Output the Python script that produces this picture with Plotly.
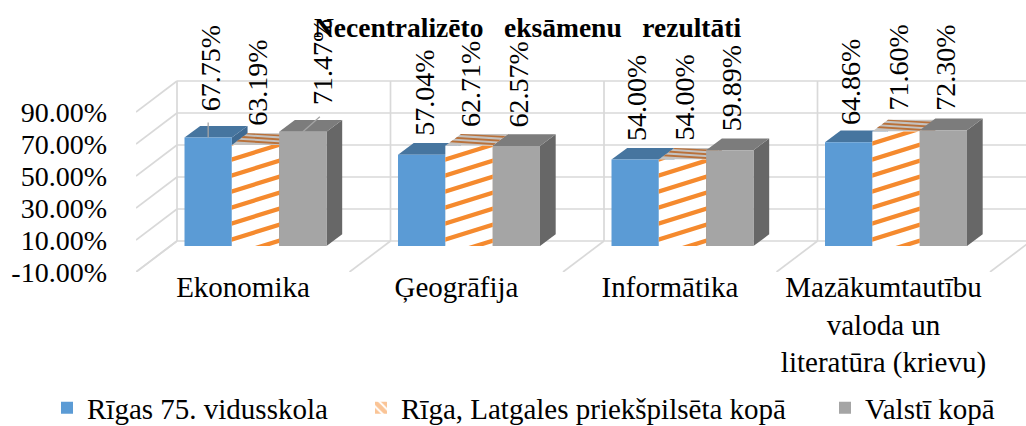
import numpy as np
import plotly.graph_objects as go

# ---------- data ----------
categories = ["Ekonomika", "Ģeogrāfija", "Informātika",
              "Mazākumtautību<br>valoda un<br>literatūra (krievu)"]
series_names = ["Rīgas 75. vidusskola", "Rīga, Latgales priekšpilsēta kopā", "Valstī kopā"]
rigas_75 = [67.75, 57.04, 54.00, 64.86]
latgales = [63.19, 62.71, 54.00, 71.60]
valsti = [71.47, 62.57, 59.89, 72.30]
y_ticks = [-10, 10, 30, 50, 70, 90]
title_text = "Necentralizēto   eksāmenu   rezultāti"

# ---------- geometry / style ----------
W, H = 1026, 426
PX_PER_CAT = 213.5
PX_PER_PCT = 1.6
ZERO_PY = 246.0
CAT0_PX = 255.5
PLOT_LEFT, PLOT_BOTTOM = 136.0, 272.0
FONT = "Liberation Serif"
GRID = "#D9D9D9"
BLUE, BLUE_TOP = "#5B9BD5", "#46759F"
ORANGE, ORANGE_TOP_BG, ORANGE_TOP_LINE = "#F58A2E", "#C4C2C0", "#B9713A"
GREY, GREY_TOP, GREY_SIDE = "#A5A5A5", "#7C7C7C", "#676767"
BLUE_SIDE = "#3F6A92"
ORANGE_SIDE = "#9A6A45"

BAR_DX, BAR_DY = 15.7, 11.7           # bar depth in px
FRONT_DX, FRONT_DY = -12.75, -10.0    # floor front edge relative to bar plane
BACK_DX, BACK_DY = 28.25, 21.0        # back wall relative to bar plane
BARGAP = 0.335
BAR_PX = PX_PER_CAT * (1 - BARGAP) / 3


def ux(px):
    return px / PX_PER_CAT


def uy(px):
    return px / PX_PER_PCT


def poly_path(pts):
    return "M" + "L".join(f"{x:.5f},{y:.5f}" for x, y in pts) + "Z"


def path_shape(pts, color, layer="below"):
    return dict(type="path", path=poly_path(pts), xref="x", yref="y", layer=layer,
                fillcolor=color, line=dict(width=0))


def line_shape(x0, y0, x1, y1):
    return dict(type="line", x0=x0, y0=y0, x1=x1, y1=y1, xref="x", yref="y", layer="below",
                line=dict(color=GRID, width=1.7))


def clip(poly, axis, limit, keep_greater):
    out = []
    for i in range(len(poly)):
        a, b = poly[i], poly[(i + 1) % len(poly)]
        ina = (a[axis] >= limit) if keep_greater else (a[axis] <= limit)
        inb = (b[axis] >= limit) if keep_greater else (b[axis] <= limit)
        if ina:
            out.append(a)
        if ina != inb:
            t = (limit - a[axis]) / (b[axis] - a[axis])
            out.append((a[0] + t * (b[0] - a[0]), a[1] + t * (b[1] - a[1])))
    return out


x_pos = np.arange(len(categories), dtype=float)
all_series = [rigas_75, latgales, valsti]
offsets = [-BAR_PX, 0.0, BAR_PX]

shapes = []
# walls and floor derived from the axis ticks
n = len(categories)
back_left = -0.5 + ux(BACK_DX)
front_left = -0.5 + ux(FRONT_DX)
x_end = (W - CAT0_PX) / PX_PER_CAT
for v in y_ticks:
    yf = v + uy(FRONT_DY)
    yb = v + uy(BACK_DY)
    shapes.append(line_shape(front_left, yf, back_left, yb))
    shapes.append(line_shape(back_left, yb, x_end + 1, yb))
for i in range(n + 1):
    xb = back_left + i
    xf = front_left + i
    shapes.append(line_shape(xf, y_ticks[0] + uy(FRONT_DY), xb, y_ticks[0] + uy(BACK_DY)))
    shapes.append(line_shape(xb, y_ticks[0] + uy(BACK_DY), xb, y_ticks[-1] + uy(BACK_DY)))

# top and side faces of the boxes, painted left to right
face_colors = [(BLUE_TOP, BLUE_SIDE), (ORANGE_TOP_BG, ORANGE_SIDE), (GREY_TOP, GREY_SIDE)]
for c in range(n):
    for s, vals in enumerate(all_series):
        xl = x_pos[c] + ux(offsets[s] - BAR_PX / 2)
        xr = xl + ux(BAR_PX)
        v = vals[c]
        dx, dy = ux(BAR_DX), uy(BAR_DY)
        top = [(xl, v), (xr, v), (xr + dx, v + dy), (xl + dx, v + dy)]
        side = [(xr, 0), (xr + dx, dy), (xr + dx, v + dy), (xr, v)]
        shapes.append(path_shape(side, face_colors[s][1]))
        shapes.append(path_shape(top, face_colors[s][0]))
        if s == 1:
            # stripes on the top face
            for frac in (0.05, 0.36, 0.67):
                f0, f1 = frac, frac + 0.15
                sl0 = 0.24
                pts = []
                for a, b in ((0, f0 + sl0), (1, f0), (1, f1), (0, f1 + sl0)):
                    b2 = min(b, 1.0)
                    pts.append((xl + a * ux(BAR_PX) + b2 * dx, v + b2 * dy))
                shapes.append(path_shape(pts, ORANGE_TOP_LINE))

# leader lines
leader_x, leader_y = [], []
for c, s, dpx, dpy in ((0, 0, 0, 15), (0, 2, 17, 15)):
    x0 = x_pos[c] + ux(offsets[s])
    v = all_series[s][c]
    leader_x += [x0, x0 + ux(dpx), None]
    leader_y += [v, v + uy(dpy), None]

# front stripes of the middle series, clipped to each bar
STRIPE_SLOPE, STRIPE_PERIOD, STRIPE_THICK = 0.31, 16.0, 4.5
for c in range(n):
    v = latgales[c]
    w = BAR_PX
    h = v * PX_PER_PCT
    x0 = x_pos[c] + ux(offsets[1] - BAR_PX / 2)
    k = -w * STRIPE_SLOPE - STRIPE_PERIOD + 3.0
    while k < h:
        poly = [(0, k), (w, k + w * STRIPE_SLOPE),
                (w, k + w * STRIPE_SLOPE + STRIPE_THICK), (0, k + STRIPE_THICK)]
        poly = clip(poly, 1, 0, True)
        if poly:
            poly = clip(poly, 1, h, False)
        if poly:
            shapes.append(path_shape([(x0 + ux(p[0]), uy(p[1])) for p in poly], ORANGE, layer="above"))
        k += STRIPE_PERIOD

fig = go.Figure()
bar_colors = [BLUE, "#FFFFFF", GREY]
legend_ids = ["legend", "legend2", "legend3"]
for s, vals in enumerate(all_series):
    fig.add_trace(go.Bar(x=x_pos, y=vals, name=series_names[s], offsetgroup=str(s),
                         marker=dict(color=bar_colors[s], line=dict(width=0)),
                         showlegend=s != 1, legend=legend_ids[s], hoverinfo="skip"))
# legend swatch of the hatched series
fig.add_trace(go.Bar(x=x_pos, y=[None] * n, name=series_names[1], offsetgroup="1",
                     marker=dict(color="#FFFFFF", line=dict(width=0),
                                 pattern=dict(shape="\\", fgcolor=ORANGE, bgcolor="#FFFFFF",
                                              size=8, solidity=0.7)),
                     legend="legend2", hoverinfo="skip"))
fig.add_trace(go.Scatter(x=leader_x, y=leader_y, mode="lines",
                         line=dict(color=GREY, width=1.3), showlegend=False, hoverinfo="skip"))

# data labels
label_shift = {(0, 0): (2, 24.6), (0, 2): (19, 24.6), (3, 0): (2, 15), (3, 1): (2, 19), (3, 2): (2, 18)}
annotations = []
for c in range(n):
    for s, vals in enumerate(all_series):
        dxp, dyp = label_shift.get((c, s), (2, 16.7))
        annotations.append(dict(x=x_pos[c] + ux(offsets[s]), y=vals[c], xref="x", yref="y",
                                text=f"{vals[c]:.2f}%", textangle=-90, showarrow=False,
                                xanchor="center", yanchor="bottom", xshift=dxp, yshift=dyp,
                                font=dict(family=FONT, size=28, color="#000000")))

x_min = (PLOT_LEFT - CAT0_PX) / PX_PER_CAT
x_max = (W - CAT0_PX) / PX_PER_CAT
y_min = (ZERO_PY - PLOT_BOTTOM) / PX_PER_PCT
y_max = ZERO_PY / PX_PER_PCT


def legend_at(text_px):
    return dict(orientation="h", x=(text_px - 41) / W, xanchor="left", y=1 - 408 / H, yanchor="middle",
                font=dict(family=FONT, size=29, color="#000000"), bgcolor="rgba(0,0,0,0)",
                itemclick=False, itemdoubleclick=False)


fig.update_layout(
    width=W, height=H, margin=dict(l=0, r=0, t=0, b=0, autoexpand=False),
    paper_bgcolor="#FFFFFF", plot_bgcolor="rgba(0,0,0,0)",
    barmode="group", bargap=BARGAP, bargroupgap=0,
    font=dict(family=FONT, color="#000000"),
    title=dict(text=f"<b>{title_text}</b>", x=527.5 / W, xanchor="center", y=1 - 27 / H, yanchor="middle",
               font=dict(family=FONT, size=27.5, color="#000000")),
    xaxis=dict(domain=[PLOT_LEFT / W, 1], range=[x_min, x_max], tickmode="array",
               tickvals=list(x_pos - ux(12.5)), ticktext=categories, showgrid=False,
               zeroline=False, showline=False, ticks="", ticklabelstandoff=-5,
               tickfont=dict(family=FONT, size=29, color="#000000"), tickangle=0, automargin=False),
    yaxis=dict(domain=[1 - PLOT_BOTTOM / H, 1], range=[y_min, y_max], tickmode="array",
               tickvals=[v + uy(FRONT_DY) for v in y_ticks],
               ticktext=[f"{v:.2f}%" for v in y_ticks], showgrid=False, zeroline=False,
               showline=False, ticks="", ticklabelstandoff=28,
               tickfont=dict(family=FONT, size=28, color="#000000"), automargin=False),
    legend=legend_at(88), legend2=legend_at(402), legend3=legend_at(866),
    shapes=shapes, annotations=annotations, showlegend=True,
)
fig.write_html("out.html", config=dict(displayModeBar=False),
               post_script="document.body.style.margin='0';document.body.style.overflow='hidden';")
